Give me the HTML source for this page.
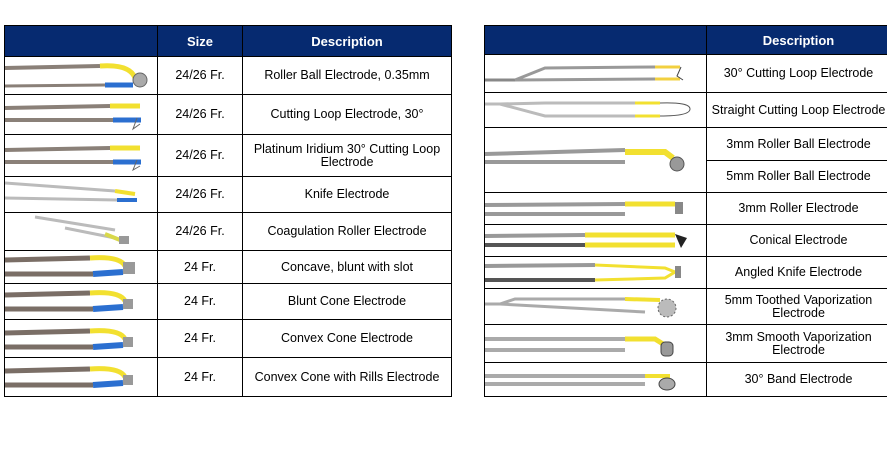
<!DOCTYPE html><html><head><meta charset="utf-8"><style>
body{margin:0;width:887px;height:462px;background:#fff;overflow:hidden;font-family:"Liberation Sans",sans-serif;position:relative}
table{position:absolute;border-collapse:collapse;table-layout:fixed;font-size:12.5px;color:#000}
td,th{border:1px solid #000;padding:0;text-align:center;line-height:13px}
th{background:#062a70;color:#fff;font-weight:bold;font-size:13px}
td.i{text-align:left;vertical-align:middle}
svg{display:block}
</style></head><body>
<table style="left:4px;top:25px;width:447px">
<colgroup><col style="width:153px"><col style="width:85px"><col style="width:209px"></colgroup>
<tr style="height:31px"><th></th><th>Size</th><th>Description</th></tr>
<tr style="height:38px"><td class="i"><svg width="152" height="36"><line x1="0" y1="10" x2="95" y2="8" stroke="#8a8078" stroke-width="4"/><path d="M95 8 Q125 6 130 20" stroke="#f2e030" stroke-width="5" fill="none"/><line x1="0" y1="28" x2="100" y2="27" stroke="#8a8078" stroke-width="3"/><line x1="100" y1="27" x2="128" y2="27" stroke="#2b6fd0" stroke-width="5"/><circle cx="135" cy="22" r="7" fill="#aaa" stroke="#666"/></svg></td><td>24/26 Fr.</td><td>Roller Ball Electrode, 0.35mm</td></tr>
<tr style="height:40px"><td class="i"><svg width="152" height="38"><line x1="0" y1="12" x2="105" y2="10" stroke="#8a8078" stroke-width="4"/><line x1="105" y1="10" x2="135" y2="10" stroke="#f2e030" stroke-width="5"/><line x1="0" y1="24" x2="108" y2="24" stroke="#8a8078" stroke-width="4"/><line x1="108" y1="24" x2="136" y2="24" stroke="#2b6fd0" stroke-width="5"/><path d="M132 22 L128 33 L135 28" stroke="#666" fill="none"/></svg></td><td>24/26 Fr.</td><td>Cutting Loop Electrode, 30°</td></tr>
<tr style="height:42px"><td class="i"><svg width="152" height="40"><line x1="0" y1="14" x2="105" y2="12" stroke="#8a8078" stroke-width="4"/><line x1="105" y1="12" x2="135" y2="12" stroke="#f2e030" stroke-width="5"/><line x1="0" y1="26" x2="108" y2="26" stroke="#8a8078" stroke-width="4"/><line x1="108" y1="26" x2="136" y2="26" stroke="#2b6fd0" stroke-width="5"/><path d="M132 24 L128 34 L135 30" stroke="#666" fill="none"/></svg></td><td>24/26 Fr.</td><td>Platinum Iridium 30° Cutting Loop<br>Electrode</td></tr>
<tr style="height:36px"><td class="i"><svg width="152" height="34"><line x1="0" y1="5" x2="110" y2="13" stroke="#bbb" stroke-width="3"/><line x1="110" y1="13" x2="130" y2="16" stroke="#f2e030" stroke-width="4"/><line x1="0" y1="20" x2="112" y2="22" stroke="#bbb" stroke-width="3"/><line x1="112" y1="22" x2="132" y2="22" stroke="#2b6fd0" stroke-width="4"/></svg></td><td>24/26 Fr.</td><td>Knife Electrode</td></tr>
<tr style="height:38px"><td class="i"><svg width="152" height="36"><line x1="30" y1="3" x2="110" y2="16" stroke="#bbb" stroke-width="3"/><line x1="60" y1="14" x2="110" y2="24" stroke="#bbb" stroke-width="3"/><line x1="100" y1="20" x2="115" y2="26" stroke="#d8d84a" stroke-width="4"/><rect x="114" y="22" width="10" height="8" fill="#999"/></svg></td><td>24/26 Fr.</td><td>Coagulation Roller Electrode</td></tr>
<tr style="height:33px"><td class="i"><svg width="152" height="31"><line x1="0" y1="8" x2="85" y2="6" stroke="#7a6e66" stroke-width="5"/><path d="M85 6 Q115 4 120 14" stroke="#f2e030" stroke-width="5" fill="none"/><line x1="0" y1="22" x2="88" y2="22" stroke="#7a6e66" stroke-width="5"/><line x1="88" y1="22" x2="118" y2="20" stroke="#2b6fd0" stroke-width="6"/><rect x="118" y="10" width="12" height="12" fill="#999"/></svg></td><td>24 Fr.</td><td>Concave, blunt with slot</td></tr>
<tr style="height:36px"><td class="i"><svg width="152" height="34"><line x1="0" y1="10" x2="85" y2="8" stroke="#7a6e66" stroke-width="5"/><path d="M85 8 Q115 6 120 16" stroke="#f2e030" stroke-width="5" fill="none"/><line x1="0" y1="24" x2="88" y2="24" stroke="#7a6e66" stroke-width="5"/><line x1="88" y1="24" x2="118" y2="22" stroke="#2b6fd0" stroke-width="6"/><rect x="118" y="14" width="10" height="10" fill="#999"/></svg></td><td>24 Fr.</td><td>Blunt Cone Electrode</td></tr>
<tr style="height:38px"><td class="i"><svg width="152" height="36"><line x1="0" y1="12" x2="85" y2="10" stroke="#7a6e66" stroke-width="5"/><path d="M85 10 Q115 8 120 18" stroke="#f2e030" stroke-width="5" fill="none"/><line x1="0" y1="26" x2="88" y2="26" stroke="#7a6e66" stroke-width="5"/><line x1="88" y1="26" x2="118" y2="24" stroke="#2b6fd0" stroke-width="6"/><rect x="118" y="16" width="10" height="10" fill="#999"/></svg></td><td>24 Fr.</td><td>Convex Cone Electrode</td></tr>
<tr style="height:39px"><td class="i"><svg width="152" height="37"><line x1="0" y1="12" x2="85" y2="10" stroke="#7a6e66" stroke-width="5"/><path d="M85 10 Q115 8 120 18" stroke="#f2e030" stroke-width="5" fill="none"/><line x1="0" y1="26" x2="88" y2="26" stroke="#7a6e66" stroke-width="5"/><line x1="88" y1="26" x2="118" y2="24" stroke="#2b6fd0" stroke-width="6"/><rect x="118" y="16" width="10" height="10" fill="#999"/></svg></td><td>24 Fr.</td><td>Convex Cone with Rills Electrode</td></tr>
</table>
<table style="left:484px;top:25px;width:406px">
<colgroup><col style="width:222px"><col style="width:184px"></colgroup>
<tr style="height:29px"><th></th><th>Description</th></tr>
<tr style="height:38px"><td class="i"><svg width="221" height="36"><line x1="0" y1="24" x2="30" y2="24" stroke="#888" stroke-width="3"/><path d="M30 24 L60 12 L170 11" stroke="#999" stroke-width="3" fill="none"/><line x1="170" y1="11" x2="195" y2="11" stroke="#f2d040" stroke-width="3"/><line x1="30" y1="24" x2="170" y2="23" stroke="#999" stroke-width="3"/><line x1="170" y1="23" x2="195" y2="23" stroke="#f2d040" stroke-width="3"/><path d="M196 11 L192 20 L198 24" stroke="#444" fill="none"/></svg></td><td>30° Cutting Loop Electrode</td></tr>
<tr style="height:35px"><td class="i"><svg width="221" height="33"><path d="M0 10 L15 10 L60 9 L170 9" stroke="#bbb" stroke-width="3" fill="none"/><path d="M15 10 L60 22 L170 22" stroke="#bbb" stroke-width="3" fill="none"/><line x1="150" y1="9" x2="175" y2="9" stroke="#f2e030" stroke-width="3"/><line x1="150" y1="22" x2="175" y2="22" stroke="#f2e030" stroke-width="3"/><path d="M175 9 Q205 8 205 15 Q205 22 175 22" stroke="#555" fill="none"/></svg></td><td>Straight Cutting Loop Electrode</td></tr>
<tr style="height:33px"><td class="i" rowspan="2"><svg width="221" height="64"><line x1="0" y1="26" x2="140" y2="22" stroke="#999" stroke-width="4"/><line x1="0" y1="34" x2="140" y2="34" stroke="#999" stroke-width="4"/><path d="M140 24 L180 24 L188 30" stroke="#f2e030" stroke-width="6" fill="none"/><circle cx="192" cy="36" r="7" fill="#999" stroke="#555"/></svg></td><td>3mm Roller Ball Electrode</td></tr>
<tr style="height:32px"><td>5mm Roller Ball Electrode</td></tr>
<tr style="height:32px"><td class="i"><svg width="221" height="30"><line x1="0" y1="11" x2="140" y2="10" stroke="#999" stroke-width="4"/><line x1="0" y1="20" x2="140" y2="20" stroke="#999" stroke-width="4"/><line x1="140" y1="10" x2="190" y2="10" stroke="#f2e030" stroke-width="5"/><rect x="190" y="8" width="8" height="12" fill="#888"/></svg></td><td>3mm Roller Electrode</td></tr>
<tr style="height:32px"><td class="i"><svg width="221" height="30"><line x1="0" y1="10" x2="100" y2="9" stroke="#999" stroke-width="4"/><line x1="0" y1="19" x2="100" y2="19" stroke="#555" stroke-width="4"/><line x1="100" y1="9" x2="190" y2="9" stroke="#f2e030" stroke-width="5"/><line x1="100" y1="19" x2="190" y2="19" stroke="#f2e030" stroke-width="5"/><path d="M190 8 L202 12 L196 22 Z" fill="#222"/></svg></td><td>Conical Electrode</td></tr>
<tr style="height:32px"><td class="i"><svg width="221" height="30"><line x1="0" y1="8" x2="110" y2="7" stroke="#999" stroke-width="4"/><line x1="0" y1="22" x2="110" y2="22" stroke="#555" stroke-width="4"/><path d="M110 7 L180 10 L190 14 L180 20 L110 22" stroke="#f2e030" stroke-width="3" fill="none"/><rect x="190" y="8" width="6" height="12" fill="#888"/></svg></td><td>Angled Knife Electrode</td></tr>
<tr style="height:36px"><td class="i"><svg width="221" height="34"><path d="M0 14 L15 14 L30 9 L160 9" stroke="#aaa" stroke-width="3" fill="none"/><line x1="15" y1="14" x2="160" y2="22" stroke="#aaa" stroke-width="3"/><line x1="140" y1="9" x2="175" y2="10" stroke="#f2e030" stroke-width="4"/><circle cx="182" cy="18" r="9" fill="#bbb" stroke="#666" stroke-dasharray="2 2"/></svg></td><td>5mm Toothed Vaporization<br>Electrode</td></tr>
<tr style="height:38px"><td class="i"><svg width="221" height="36"><line x1="0" y1="13" x2="140" y2="13" stroke="#aaa" stroke-width="4"/><line x1="0" y1="24" x2="140" y2="24" stroke="#aaa" stroke-width="4"/><path d="M140 13 L170 13 L178 18" stroke="#f2e030" stroke-width="5" fill="none"/><rect x="176" y="16" width="12" height="14" rx="4" fill="#999" stroke="#444"/></svg></td><td>3mm Smooth Vaporization<br>Electrode</td></tr>
<tr style="height:34px"><td class="i"><svg width="221" height="32"><line x1="0" y1="12" x2="160" y2="12" stroke="#aaa" stroke-width="4"/><line x1="0" y1="20" x2="160" y2="20" stroke="#aaa" stroke-width="4"/><line x1="160" y1="12" x2="185" y2="12" stroke="#f2e030" stroke-width="4"/><ellipse cx="182" cy="20" rx="8" ry="6" fill="#aaa" stroke="#444"/></svg></td><td>30° Band Electrode</td></tr>
</table>
</body></html>
